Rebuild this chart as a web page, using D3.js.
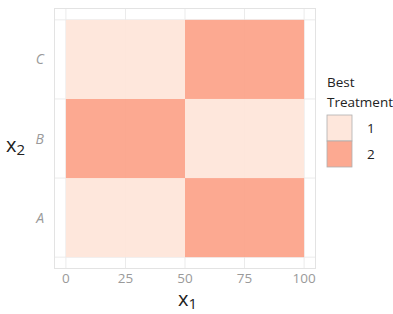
<!DOCTYPE html>
<html><head><meta charset="utf-8">
<script src="https://cdn.jsdelivr.net/npm/d3@7"></script>
<style>body{margin:0;background:#fff}text{font-family:"Open Sans",sans-serif}</style>
</head><body><svg id="c" width="393" height="314"></svg>
<script>
const x1Bins = [[0, 50], [50, 100]];
const x2Levels = ["A", "B", "C"];
const bestTreatment = {A: [1, 2], B: [2, 1], C: [1, 2]};
const xTicks = [0, 25, 50, 75, 100];
const legendLevels = [1, 2];
const colors = ["#fee5d9", "#fca288"];

const svg = d3.select("#c");
const L = 54, R = 316, T = 8, B = 269;
const x = d3.scaleLinear().domain([-5, 105]).range([L, R]);
const y = d3.scaleLinear().domain([0.35, 3.65]).range([B, T]);
const col = d3.scaleOrdinal().domain(legendLevels).range(colors);

svg.append("rect").attr("x", L).attr("y", T).attr("width", R - L).attr("height", B - T).attr("fill", "#fff");
// grid
svg.append("g").selectAll("line").data(xTicks).join("line")
  .attr("x1", d => x(d)).attr("x2", d => x(d)).attr("y1", T).attr("y2", B)
  .attr("stroke", "#ebebeb").attr("stroke-width", 1);
svg.append("g").selectAll("line").data([0.5, 1.5, 2.5, 3.5]).join("line")
  .attr("x1", L).attr("x2", R).attr("y1", d => y(d)).attr("y2", d => y(d))
  .attr("stroke", "#ebebeb").attr("stroke-width", 1);

const cells = [];
x2Levels.forEach((lv, i) => x1Bins.forEach((b, j) => cells.push({lv, i: i + 1, b, v: bestTreatment[lv][j]})));
svg.append("g").selectAll("rect").data(cells).join("rect")
  .attr("x", d => x(d.b[0])).attr("width", d => x(d.b[1]) - x(d.b[0]))
  .attr("y", d => y(d.i + 0.5)).attr("height", d => y(d.i - 0.5) - y(d.i + 0.5))
  .attr("fill", d => col(d.v)).attr("fill-opacity", 0.92);

svg.append("rect").attr("x", L + 0.5).attr("y", T + 0.5).attr("width", R - L - 1).attr("height", B - T - 1)
  .attr("fill", "none").attr("stroke", "#e3e3e3");

// axes labels
svg.append("g").selectAll("text").data(xTicks).join("text")
  .attr("x", d => x(d)).attr("y", 283).attr("text-anchor", "middle")
  .attr("font-size", 13.5).attr("fill", "#9a9a9a").text(d => d);
svg.append("g").selectAll("text").data(x2Levels).join("text")
  .attr("x", 44).attr("y", (d, i) => y(i + 1) + 5).attr("text-anchor", "end")
  .attr("font-size", 14).attr("font-style", "italic").attr("fill", "#9a9a9a").text(d => d);

const xt = svg.append("text").attr("x", 178).attr("y", 306).attr("font-size", 20).attr("fill", "#222");
xt.append("tspan").text("x");
xt.append("tspan").attr("font-size", 15).attr("dy", 3).text("1");
const yt = svg.append("text").attr("x", 6).attr("y", 152).attr("font-size", 20).attr("fill", "#222");
yt.append("tspan").text("x");
yt.append("tspan").attr("font-size", 15).attr("dy", 3).text("2");

// legend
const lg = svg.append("g");
lg.append("text").attr("x", 327).attr("y", 87).attr("font-size", 13.5).attr("fill", "#222").text("Best");
lg.append("text").attr("x", 327).attr("y", 107).attr("font-size", 13.5).attr("fill", "#222").text("Treatment");
lg.selectAll("rect").data(legendLevels).join("rect")
  .attr("x", 327).attr("y", (d, i) => 115 + i * 26).attr("width", 25).attr("height", 26)
  .attr("fill", d => col(d)).attr("fill-opacity", 0.92).attr("stroke", "#b0b0b0").attr("stroke-width", 0.8);
lg.selectAll("text.l").data(legendLevels).join("text").attr("class", "l")
  .attr("x", 367).attr("y", (d, i) => 133 + i * 26).attr("font-size", 13.5).attr("fill", "#222").text(d => d);
</script></body></html>
